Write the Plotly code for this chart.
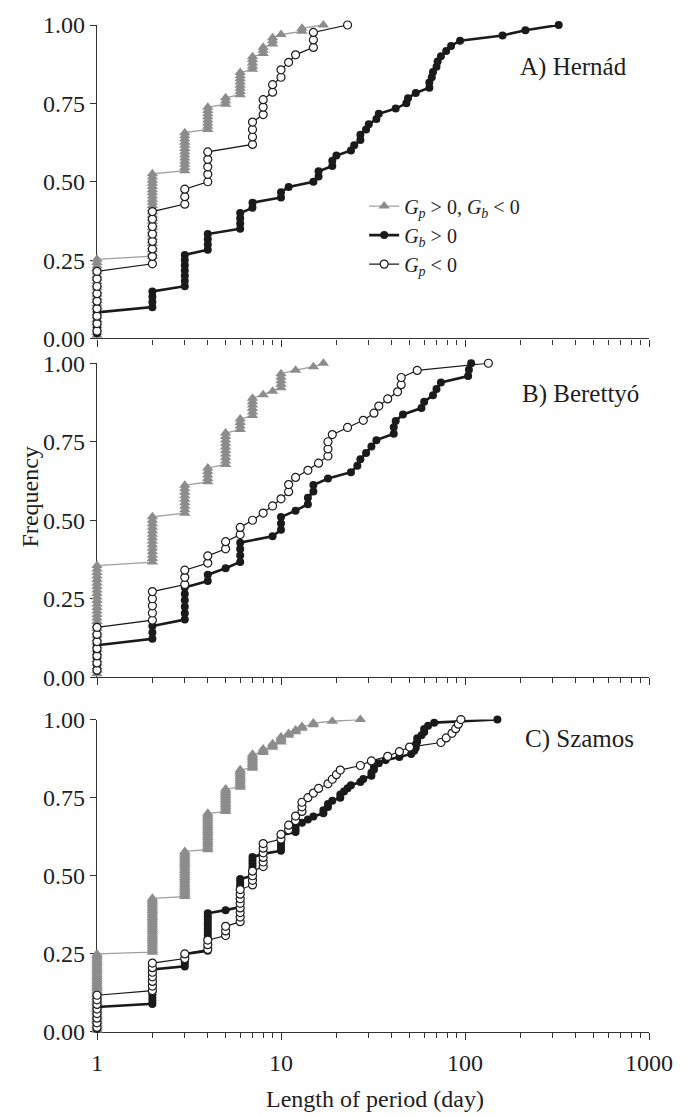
import numpy as np
import plotly.graph_objects as go

# Period lengths (days) and number of periods of that length, per river and regime.
# Series: "grey" = Gp > 0, Gb < 0 ; "black" = Gb > 0 ; "open" = Gp < 0

hernad_grey_days = [1, 2, 3, 4, 5, 6, 7, 8, 9, 10, 13, 17]
hernad_grey_counts = [25, 27, 13, 8, 3, 8, 5, 3, 3, 1, 2, 1]

hernad_black_days = [1, 2, 3, 4, 6, 7, 10, 11, 15, 16, 19, 20, 24, 25, 27, 29, 30, 33, 34,
                     42, 48, 49, 54, 64, 66, 67, 70, 71, 74, 79, 84, 94, 160, 213, 323]
hernad_black_counts = [5, 4, 7, 4, 4, 2, 2, 1, 1, 2, 2, 1, 1, 1, 2, 1, 1, 1, 1,
                       1, 1, 1, 1, 2, 1, 1, 1, 1, 1, 1, 1, 1, 1, 1, 1]

hernad_open_days = [1, 2, 3, 4, 7, 8, 9, 10, 11, 12, 15, 23]
hernad_open_counts = [9, 8, 3, 5, 4, 3, 2, 2, 1, 1, 3, 1]

berettyo_grey_days = [1, 2, 3, 4, 5, 6, 7, 8, 9, 10, 12, 15, 17]
berettyo_grey_counts = [32, 14, 9, 5, 10, 4, 6, 1, 1, 5, 1, 1, 1]

berettyo_black_days = [1, 2, 3, 4, 5, 6, 9, 10, 12, 14, 15, 18, 24, 26, 27, 29, 31, 33,
                       41, 42, 46, 58, 60, 67, 70, 74, 104, 105, 108]
berettyo_black_counts = [5, 3, 6, 2, 1, 4, 1, 3, 1, 2, 2, 1, 1, 1, 1, 1, 1, 1,
                         2, 1, 1, 1, 1, 1, 1, 1, 1, 1, 1]

berettyo_open_days = [1, 2, 3, 4, 5, 6, 7, 8, 9, 10, 11, 12, 14, 16, 18, 19, 23, 28, 32,
                      34, 38, 43, 45, 55, 134]
berettyo_open_counts = [7, 5, 3, 2, 2, 2, 1, 1, 1, 1, 2, 1, 1, 1, 3, 1, 1, 1, 1,
                        1, 1, 1, 2, 1, 1]

szamos_grey_days = [1, 2, 3, 4, 5, 6, 7, 8, 9, 10, 11, 12, 13, 15, 19, 27]
szamos_grey_counts = [45, 32, 27, 22, 14, 11, 9, 3, 3, 4, 2, 2, 2, 2, 1, 1]

szamos_black_days = [1, 2, 3, 4, 5, 6, 7, 8, 10, 12, 13, 14, 15, 17, 18, 19, 21, 22, 23, 24,
                     27, 28, 31, 32, 34, 37, 44, 51, 53, 54, 55, 58, 60, 63, 68, 150]
szamos_black_counts = [8, 12, 5, 13, 1, 10, 7, 1, 6, 3, 1, 1, 1, 2, 2, 1, 2, 1, 1, 1,
                       1, 1, 2, 2, 1, 1, 1, 1, 1, 2, 2, 1, 2, 1, 1, 1]

szamos_open_days = [1, 2, 3, 4, 5, 6, 7, 8, 10, 11, 12, 13, 14, 15, 16, 18, 19, 20, 21,
                    27, 31, 38, 44, 50, 74, 79, 85, 89, 92, 95]
szamos_open_counts = [8, 7, 2, 3, 3, 8, 4, 6, 2, 2, 2, 3, 1, 1, 1, 1, 1, 1, 1,
                      1, 1, 1, 1, 1, 1, 1, 1, 1, 1, 1]

panel_titles = ["A) Hernád", "B) Berettyó", "C) Szamos"]
legend_names = [
    "<i>G<sub>p</sub></i> &gt; 0, <i>G<sub>b</sub></i> &lt; 0",
    "<i>G<sub>b</sub></i> &gt; 0",
    "<i>G<sub>p</sub></i> &lt; 0",
]
x_tick_values = [1, 10, 100, 1000]
x_tick_text = ["1", "10", "100", "1000"]
y_tick_values = [0, 0.25, 0.5, 0.75, 1.0]

panels = [
    [(hernad_grey_days, hernad_grey_counts), (hernad_black_days, hernad_black_counts),
     (hernad_open_days, hernad_open_counts)],
    [(berettyo_grey_days, berettyo_grey_counts), (berettyo_black_days, berettyo_black_counts),
     (berettyo_open_days, berettyo_open_counts)],
    [(szamos_grey_days, szamos_grey_counts), (szamos_black_days, szamos_black_counts),
     (szamos_open_days, szamos_open_counts)],
]

FONT = "Liberation Serif"
INK = "#1a1a1a"
TEXT = "#1e1e1e"
styles = [
    dict(line=dict(color="#a0a0a0", width=1.3),
         marker=dict(symbol="triangle-up", size=10, color="#8c8c8c", line=dict(width=0))),
    dict(line=dict(color=INK, width=2.6),
         marker=dict(symbol="circle", size=8, color=INK, line=dict(width=0))),
    dict(line=dict(color=INK, width=1.2),
         marker=dict(symbol="circle", size=8, color="white", line=dict(color=INK, width=1.2))),
]


def ecdf(days, counts):
    x = np.repeat(np.asarray(days, dtype=float), counts)
    n = len(x)
    y = np.arange(1, n + 1) / n
    return x, y


# vertical domains of the three stacked panels (paper fraction)
domains = [[0.6887, 1.0], [0.3523, 0.6641], [0.0, 0.3103]]

fig = go.Figure()
for p, series in enumerate(panels):
    suffix = "" if p == 0 else str(p + 1)
    for s, (days, counts) in enumerate(series):
        x, y = ecdf(days, counts)
        fig.add_trace(go.Scatter(
            x=x, y=y, mode="lines+markers",
            name=legend_names[s], showlegend=(p == 0),
            xaxis="x" + suffix, yaxis="y" + suffix,
            cliponaxis=False, **styles[s]))

minor_vals = [d * 10 ** e for e in range(3) for d in range(2, 10)]
layout = dict(
    width=685, height=1116,
    margin=dict(l=97, r=35, t=16, b=84),
    paper_bgcolor="white", plot_bgcolor="white",
    font=dict(family=FONT, size=24, color=TEXT),
    showlegend=True,
    legend=dict(x=0.484, y=0.8395, xanchor="left", yanchor="top",
                font=dict(family=FONT, size=20, color=TEXT),
                bgcolor="rgba(0,0,0,0)", itemwidth=30, tracegroupgap=0),
)
for p in range(3):
    suffix = "" if p == 0 else str(p + 1)
    layout["xaxis" + suffix] = dict(
        type="log", range=[0, 3], domain=[0, 1], anchor="y" + suffix,
        showline=True, linecolor="#333", linewidth=1.2,
        ticks="outside", ticklen=7, tickwidth=1.2, tickcolor="#333",
        tickvals=x_tick_values, ticktext=x_tick_text,
        showticklabels=(p == 2), ticklabelstandoff=2,
        tickfont=dict(family=FONT, size=24, color=TEXT),
        minor=dict(tickvals=minor_vals, ticks="outside", ticklen=5,
                   tickwidth=1.1, tickcolor="#333", showgrid=False),
        showgrid=False, zeroline=False, layer="below traces",
    )
    layout["yaxis" + suffix] = dict(
        range=[0, 1], domain=domains[p], anchor="x" + suffix,
        showline=True, linecolor="#333", linewidth=1.2,
        ticks="outside", ticklen=6, tickwidth=1.2, tickcolor="#333",
        tickvals=y_tick_values, tickformat=".2f",
        tickfont=dict(family=FONT, size=24, color=TEXT),
        showgrid=False, zeroline=False, layer="below traces",
    )
fig.update_layout(**layout)

label_pos = [(0.964, 0.9584), (0.986, 0.6338), (0.976, 0.2908)]
for title, (lx, ly) in zip(panel_titles, label_pos):
    fig.add_annotation(text=title, xref="paper", yref="paper", x=lx, y=ly,
                       xanchor="right", yanchor="middle", showarrow=False,
                       font=dict(family=FONT, size=25, color=TEXT))

fig.add_annotation(text="Frequency", xref="paper", yref="paper", x=-0.122, y=0.5315,
                   textangle=-90, xanchor="center", yanchor="middle", showarrow=False,
                   font=dict(family=FONT, size=24, color=TEXT))
fig.add_annotation(text="Length of period (day)", xref="paper", yref="paper", x=0.504,
                   y=-0.0666, xanchor="center", yanchor="middle", showarrow=False,
                   font=dict(family=FONT, size=24, color=TEXT))

fig.write_html("out.html")
